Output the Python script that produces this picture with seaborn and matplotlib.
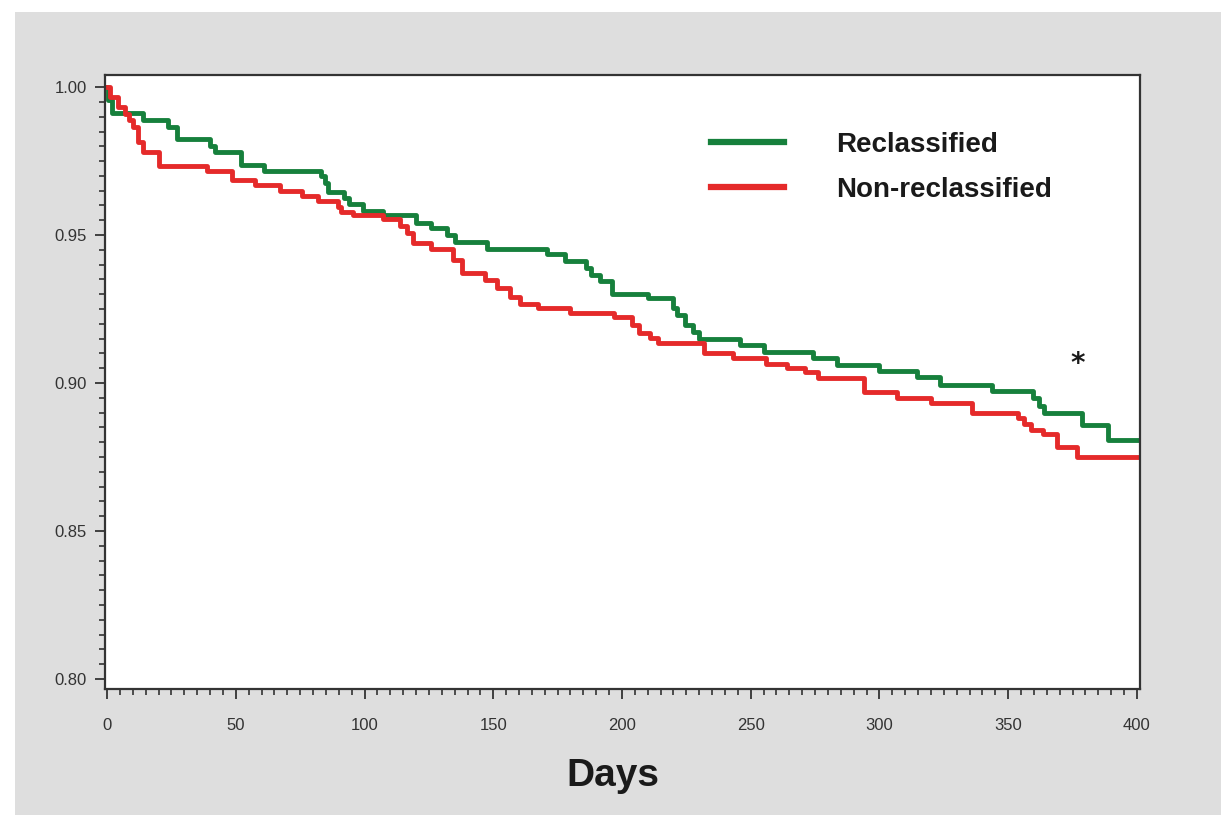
import numpy as np
import pandas as pd
import seaborn as sns
import matplotlib.pyplot as plt
from matplotlib.lines import Line2D
from matplotlib.patches import Rectangle
from matplotlib.ticker import MultipleLocator, FormatStrFormatter

# step change points (day, survival after that day)
reclass_days = [0, 0.5, 2, 14, 23.7, 27, 40, 42, 52, 61, 83, 84.5, 86, 92, 94, 99.5,
                107, 120, 126, 132, 135, 147.5, 171, 178, 186, 188, 191.5, 196, 210,
                220, 221.5, 224.5, 227.5, 230, 246, 255, 274, 283.5, 300, 314.5, 323.5,
                343.7, 359.6, 362, 364, 378.6, 388.7, 400]
reclass_surv = [1.000, 0.9956, 0.9912, 0.989, 0.9865, 0.9824, 0.980, 0.978, 0.9736, 0.9716,
                0.970, 0.9676, 0.9645, 0.9625, 0.9605, 0.958, 0.9568, 0.954, 0.9524, 0.950,
                0.9476, 0.9453, 0.9436, 0.9412, 0.9388, 0.9365, 0.9345, 0.930, 0.9287,
                0.9253, 0.923, 0.9196, 0.9172, 0.9149, 0.9128, 0.9105, 0.9084, 0.906,
                0.904, 0.902, 0.8993, 0.8973, 0.895, 0.8922, 0.8899, 0.8858, 0.8806, 0.8806]

nonreclass_days = [0, 1, 4.3, 7, 8.5, 10, 12, 14, 20, 39, 48.5, 57.5, 67, 75.7, 82, 89.7,
                   91, 95.5, 107, 113.8, 116.5, 119, 126, 134.4, 138, 146.8, 151.5, 156.5,
                   160.4, 167.4, 180, 197, 204, 206.5, 211, 214, 232, 243, 256, 264, 271,
                   276, 294, 306.8, 320, 336, 354, 356, 359, 363.5, 369, 376.7, 400]
nonreclass_surv = [1.000, 0.9966, 0.9932, 0.991, 0.9889, 0.9865, 0.9814, 0.978, 0.9733,
                   0.9716, 0.9686, 0.9669, 0.9649, 0.9632, 0.9615, 0.9595, 0.9578, 0.9568,
                   0.9554, 0.953, 0.9507, 0.9473, 0.9453, 0.9416, 0.9372, 0.9348, 0.9321,
                   0.929, 0.9267, 0.9253, 0.9236, 0.9223, 0.9196, 0.9169, 0.9152, 0.9135,
                   0.9101, 0.9084, 0.9064, 0.905, 0.9037, 0.9017, 0.897, 0.895, 0.8934,
                   0.8899, 0.8882, 0.8861, 0.8841, 0.8828, 0.8784, 0.875, 0.875]

groups = ["Reclassified", "Non-reclassified"]
colors = {"Reclassified": "#16803c", "Non-reclassified": "#e52a2a"}

df = pd.concat([
    pd.DataFrame({"day": reclass_days, "surv": reclass_surv, "group": groups[0]}),
    pd.DataFrame({"day": nonreclass_days, "surv": nonreclass_surv, "group": groups[1]}),
])

fig = plt.figure(figsize=(12.21, 8.21), dpi=100, facecolor="white")
fig.patches.append(Rectangle((15 / 1221, 6 / 821), 1206 / 1221, 803 / 821,
                             transform=fig.transFigure, facecolor="#dedede",
                             edgecolor="none", zorder=-10))
ax = fig.add_axes([105 / 1221, 132 / 821, 1035 / 1221, 614 / 821])
ax.set_facecolor("white")

sns.lineplot(data=df, x="day", y="surv", hue="group", palette=colors,
             estimator=None, sort=False, drawstyle="steps-post",
             linewidth=3.5, legend=False, ax=ax)

ax.set_xlim(-0.8, 401.2)
ax.set_ylim(0.7966, 1.0041)
ax.xaxis.set_major_locator(MultipleLocator(50))
ax.xaxis.set_minor_locator(MultipleLocator(5))
ax.yaxis.set_major_locator(MultipleLocator(0.05))
ax.yaxis.set_minor_locator(MultipleLocator(0.005))
ax.yaxis.set_major_formatter(FormatStrFormatter("%.2f"))

tick_font = ["Liberation Sans Narrow", "Liberation Sans", "DejaVu Sans"]
for lab in ax.get_xticklabels() + ax.get_yticklabels():
    lab.set_family(tick_font)
ax.tick_params(which="major", length=7, width=1.3, color="#333333",
               labelsize=12, labelcolor="#333333")
ax.tick_params(axis="x", which="major", pad=14)
ax.tick_params(axis="y", which="major", pad=6)
ax.tick_params(which="minor", length=4, width=1.2, color="#333333")
for s in ax.spines.values():
    s.set_color("#333333")
    s.set_linewidth(1.6)

ax.set_xlabel("Days", fontsize=28, fontweight="bold", family=["Liberation Sans", "DejaVu Sans"],
              color="#1a1a1a")
ax.xaxis.set_label_coords(0.491, -0.112)
ax.set_ylabel("")

handles = [Line2D([], [], color=colors[g], linewidth=4.5) for g in groups]
leg = ax.legend(handles, groups, loc="upper left", bbox_to_anchor=(0.561, 0.948),
                frameon=False, handlelength=2.65, handletextpad=1.85, labelspacing=0.68,
                prop={"family": ["Liberation Sans", "DejaVu Sans"], "weight": "bold", "size": 20})
for t in leg.get_texts():
    t.set_color("#1a1a1a")

ax.text(377, 0.9065, "*", fontsize=20, fontweight="bold", ha="center", va="center",
        color="#1a1a1a")

fig.savefig("out.png", dpi=100, facecolor=fig.get_facecolor())
